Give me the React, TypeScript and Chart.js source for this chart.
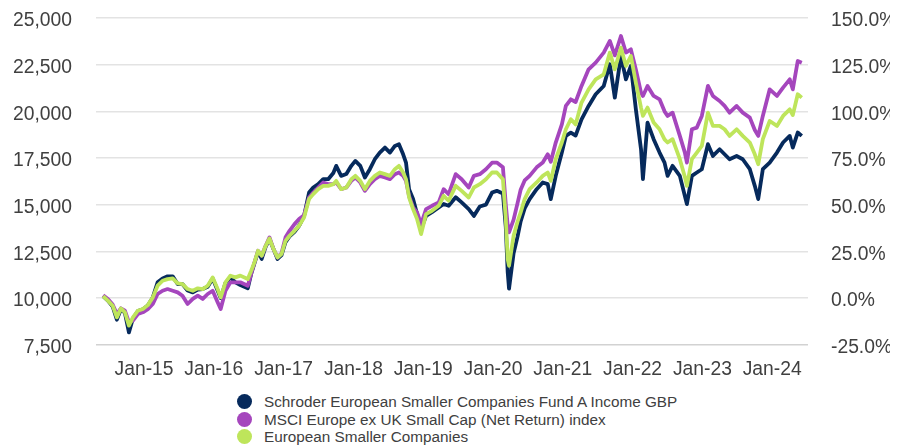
import React, { useEffect, useRef } from "react";
import { Chart, registerables } from "chart.js";

Chart.register(...registerables);

const seriesNames = [
  "Schroder European Smaller Companies Fund A Income GBP",
  "MSCI Europe ex UK Small Cap (Net Return) index",
  "European Smaller Companies",
];

const seriesColors = ["#062a5c", "#a546bd", "#bee55b"];

const dates = [
  "2014-06-01", "2014-06-26", "2014-07-21", "2014-08-12", "2014-09-02", "2014-09-23", "2014-10-14", "2014-11-04", "2014-11-30", "2014-12-26",
  "2015-01-21", "2015-02-16", "2015-03-13", "2015-04-08", "2015-05-04", "2015-05-31", "2015-06-26", "2015-07-21", "2015-08-17", "2015-09-13",
  "2015-10-09", "2015-11-04", "2015-11-30", "2015-12-26", "2016-01-21", "2016-02-06", "2016-03-02", "2016-03-28", "2016-04-23", "2016-05-19",
  "2016-06-27", "2016-07-15", "2016-08-01", "2016-08-20", "2016-09-08", "2016-09-29", "2016-10-19", "2016-11-09", "2016-11-30", "2016-12-21",
  "2017-01-11", "2017-02-01", "2017-02-27", "2017-03-23", "2017-04-18", "2017-05-14", "2017-06-05", "2017-07-01", "2017-07-27", "2017-08-22",
  "2017-09-18", "2017-10-03", "2017-10-29", "2017-11-25", "2017-12-21", "2018-01-11", "2018-02-06", "2018-03-02", "2018-03-28", "2018-04-23",
  "2018-05-19", "2018-06-15", "2018-07-11", "2018-08-06", "2018-08-27", "2018-09-18", "2018-10-03", "2018-10-19", "2018-11-09", "2018-11-30",
  "2018-12-21", "2019-01-16", "2019-02-16", "2019-03-23", "2019-04-18", "2019-05-14", "2019-06-20", "2019-07-21", "2019-08-27", "2019-09-23",
  "2019-10-24", "2019-11-25", "2019-12-27", "2020-01-21", "2020-02-22", "2020-03-08", "2020-03-18", "2020-03-25", "2020-04-18", "2020-05-09",
  "2020-05-25", "2020-06-15", "2020-07-11", "2020-08-17", "2020-09-18", "2020-10-14", "2020-10-30", "2020-11-25", "2020-12-27", "2021-01-17",
  "2021-02-12", "2021-03-09", "2021-04-09", "2021-05-16", "2021-06-22", "2021-08-03", "2021-09-04", "2021-09-30", "2021-11-01", "2021-11-27",
  "2021-12-23", "2022-01-18", "2022-02-14", "2022-02-24", "2022-03-20", "2022-04-21", "2022-05-22", "2022-06-17", "2022-07-03", "2022-07-29",
  "2022-09-05", "2022-10-01", "2022-10-12", "2022-11-07", "2022-12-03", "2022-12-29", "2023-01-30", "2023-02-25", "2023-04-01", "2023-04-27",
  "2023-05-23", "2023-06-29", "2023-07-31", "2023-09-06", "2023-10-02", "2023-10-20", "2023-11-13", "2023-12-19", "2024-01-26", "2024-02-27",
  "2024-04-02", "2024-04-18", "2024-05-14", "2024-06-04",
];

const fundValues = [
  10100, 9860, 9550, 8840, 9400, 9200, 8160, 8900, 9300, 9400,
  9600, 10035, 10840, 11050, 11160, 11160, 10750, 10750, 10400, 10300,
  10450, 10480, 10600, 11050, 10400, 10000, 10800, 11105, 10840, 10700,
  10520, 11300, 11850, 12480, 12090, 12750, 13150, 12620, 12090, 12300,
  13000, 13300, 13550, 13870, 14400, 15650, 15920, 16100, 16365, 16365,
  16700, 17080, 16545, 16640, 17080, 17345, 17080, 16455, 16900, 17435,
  17790, 18060, 17790, 18150, 18240, 17700, 17255, 15830, 15300, 14500,
  13700, 14400, 14600, 14850, 15035, 14940, 15400, 15120, 14760, 14400,
  14900, 15000, 15650, 15740, 15600, 13800, 11390, 10500, 12400, 13300,
  14100, 14800, 15300, 15830, 16190, 16100, 15300, 16545, 17800, 18685,
  18860, 18700, 19575, 20290, 20915, 21360, 22520, 20735, 22965, 21715,
  22430, 20110, 17970, 16365, 19400, 18510, 17790, 17255, 16545, 17080,
  16545, 15475, 15030, 16545, 16725, 16900, 18240, 17610, 17970, 17700,
  17435, 17610, 17435, 16900, 16010, 15300, 16900, 17255, 17790, 18330,
  18685, 18060, 18865, 18685,
];

const indexValues = [
  10150, 9950, 9650, 9145, 9450, 9320, 8700, 8790, 9145, 9235,
  9410, 9680, 10215, 10390, 10480, 10390, 10305, 10125, 9680, 9950,
  10125, 9950, 10215, 10390, 9770, 9410, 10390, 10840, 10840, 10840,
  10660, 11300, 11900, 12530, 12265, 12800, 13250, 12620, 12175, 12400,
  13250, 13600, 13960, 14230, 14440, 15385, 15650, 15920, 16190, 16100,
  16100, 16190, 15830, 15920, 16275, 16455, 16190, 15740, 16100, 16365,
  16545, 16455, 16365, 16635, 16725, 16545, 16275, 15475, 14850, 14585,
  13960, 14760, 14940, 15120, 15830, 15560, 16635, 16365, 15920, 16545,
  16635, 16900, 17250, 17255, 17000, 15000, 13900, 13515, 14200, 15100,
  15800, 16300, 16545, 17000, 17255, 17700, 17300, 18330, 19300, 20290,
  20645, 20500, 21360, 22250, 22610, 23145, 23770, 23000, 24035, 23150,
  23320, 22250, 21000, 20825, 21360, 20825, 20645, 20000, 19755, 19930,
  18685, 17800, 17255, 19040, 19130, 19755, 21360, 20825, 20555, 20290,
  19930, 20290, 19930, 19665, 19000, 18685, 19755, 21180, 20825, 21270,
  21715, 21180, 22695, 22605,
];

const sectorValues = [
  10100, 9860, 9590, 8965, 9445, 9235, 8520, 8965, 9320, 9410,
  9620, 10035, 10660, 10925, 11015, 11050, 10790, 10750, 10480, 10390,
  10520, 10480, 10660, 11105, 10480, 10035, 10840, 11195, 11105, 11200,
  11015, 11460, 11910, 12530, 12265, 12800, 13195, 12620, 12175, 12355,
  13065, 13335, 13600, 13870, 14315, 15300, 15565, 15830, 16010, 16010,
  16100, 16275, 15830, 15920, 16365, 16545, 16275, 15830, 16275, 16545,
  16725, 16635, 16545, 16900, 17080, 16725, 16365, 15385, 14760, 14225,
  13425, 14495, 14670, 14940, 15475, 15210, 16010, 15740, 15385, 15920,
  16100, 16365, 16725, 16725, 16365, 14225, 12085, 11730, 13335, 14100,
  14585, 15300, 15830, 16190, 16545, 16725, 16275, 17435, 18330, 19040,
  19575, 19300, 20470, 21180, 21715, 21985, 23145, 22250, 23410, 22430,
  22965, 21540, 20200, 19755, 20200, 19400, 19040, 18500, 18330, 18510,
  17435, 16500, 16010, 17435, 17790, 18150, 19930, 19220, 19220, 19040,
  18685, 19040, 18685, 18330, 17700, 17170, 18510, 19485, 19220, 19755,
  20110, 19800, 20915, 20735,
];

const leftTicks = [7500, 10000, 12500, 15000, 17500, 20000, 22500, 25000];
const rightTicks = [-25, 0, 25, 50, 75, 100, 125, 150];
const xTickYears = [2015, 2016, 2017, 2018, 2019, 2020, 2021, 2022, 2023, 2024];

const FONT = "'Liberation Sans', Arial, Helvetica, sans-serif";
const TEXT = "#404040";

function toYear(s: string): number {
  const [y, m, d] = s.split("-").map(Number);
  const start = Date.UTC(y, 0, 1);
  const end = Date.UTC(y + 1, 0, 1);
  return y + (Date.UTC(y, m - 1, d) - start) / (end - start);
}

export default function App() {
  const ref = useRef<HTMLCanvasElement | null>(null);

  useEffect(() => {
    if (!ref.current) return;
    const xs = dates.map(toYear);
    const all = [fundValues, indexValues, sectorValues];
    const orders = [3, 2, 1];
    const chart = new Chart(ref.current, {
      type: "line",
      data: {
        datasets: all.map((vals, i) => ({
          label: seriesNames[i],
          data: vals.map((v, j) => ({ x: xs[j], y: v })),
          borderColor: seriesColors[i],
          backgroundColor: seriesColors[i],
          borderWidth: 3.8,
          pointRadius: 0,
          tension: 0,
          fill: false,
          borderJoinStyle: "round" as const,
          order: orders[i],
          yAxisID: "y",
        })),
      },
      options: {
        responsive: false,
        animation: false,
        events: [],
        layout: { padding: { top: 10, bottom: 9, left: 0, right: 0 } },
        plugins: { legend: { display: false }, tooltip: { enabled: false } },
        scales: {
          x: {
            type: "linear",
            min: 2014.312,
            max: 2024.513,
            grid: { display: false, drawTicks: false },
            border: { display: false },
            afterBuildTicks: (s: any) => {
              s.ticks = xTickYears.map((v) => ({ value: v }));
            },
            afterFit: (s: any) => {
              s.height = 34.3;
              s.paddingLeft = 0;
              s.paddingRight = 0;
            },
            ticks: {
              autoSkip: false,
              maxRotation: 0,
              padding: 15,
              color: TEXT,
              font: { family: FONT, size: 19.3, lineHeight: 1 },
              callback: (v: any) => "Jan-" + String(v).slice(2),
            },
          },
          y: {
            position: "left",
            min: 7500,
            max: 25000,
            afterBuildTicks: (s: any) => {
              s.ticks = leftTicks.map((v) => ({ value: v }));
            },
            afterFit: (s: any) => {
              s.width = 88;
              s.paddingTop = 0;
              s.paddingBottom = 0;
            },
            grid: {
              drawTicks: false,
              lineWidth: 1.5,
              color: (ctx: any) => (ctx.tick && ctx.tick.value === 7500 ? "#d2d2d2" : "#e3e3e3"),
            },
            border: { display: false },
            ticks: {
              padding: 24,
              labelOffset: 3,
              color: TEXT,
              font: { family: FONT, size: 19.3, lineHeight: 1 },
              callback: (v: any) => Number(v).toLocaleString("en-US"),
            },
          },
          y2: {
            position: "right",
            min: -25,
            max: 150,
            afterBuildTicks: (s: any) => {
              s.ticks = rightTicks.map((v) => ({ value: v }));
            },
            afterFit: (s: any) => {
              s.width = 82;
              s.paddingTop = 0;
              s.paddingBottom = 0;
            },
            grid: { display: false, drawTicks: false },
            border: { display: false },
            ticks: {
              padding: 23,
              labelOffset: 3,
              color: TEXT,
              font: { family: FONT, size: 19.3, lineHeight: 1 },
              callback: (v: any) => Number(v).toFixed(1) + "%",
            },
          },
        },
      },
    });
    return () => chart.destroy();
  }, []);

  return (
    <div
      style={{
        position: "fixed",
        left: 0,
        top: 0,
        width: 898,
        height: 445,
        overflow: "hidden",
        background: "#ffffff",
      }}
    >
      <canvas
        ref={ref}
        width={882}
        height={380}
        style={{ position: "absolute", left: 8, top: 8, width: 882, height: 380 }}
      />
      <div style={{ position: "absolute", left: 236.5, top: 393 }}>
        {seriesNames.map((name, i) => (
          <div
            key={name}
            style={{ display: "flex", alignItems: "center", height: 17.5 }}
          >
            <span
              style={{
                display: "inline-block",
                width: 15,
                height: 15,
                borderRadius: "50%",
                background: seriesColors[i],
                marginRight: 12.5,
                flex: "none",
              }}
            />
            <span
              style={{
                fontFamily: FONT,
                fontSize: 15.3,
                color: TEXT,
                whiteSpace: "nowrap",
                lineHeight: "17.5px",
              }}
            >
              {name}
            </span>
          </div>
        ))}
      </div>
    </div>
  );
}
